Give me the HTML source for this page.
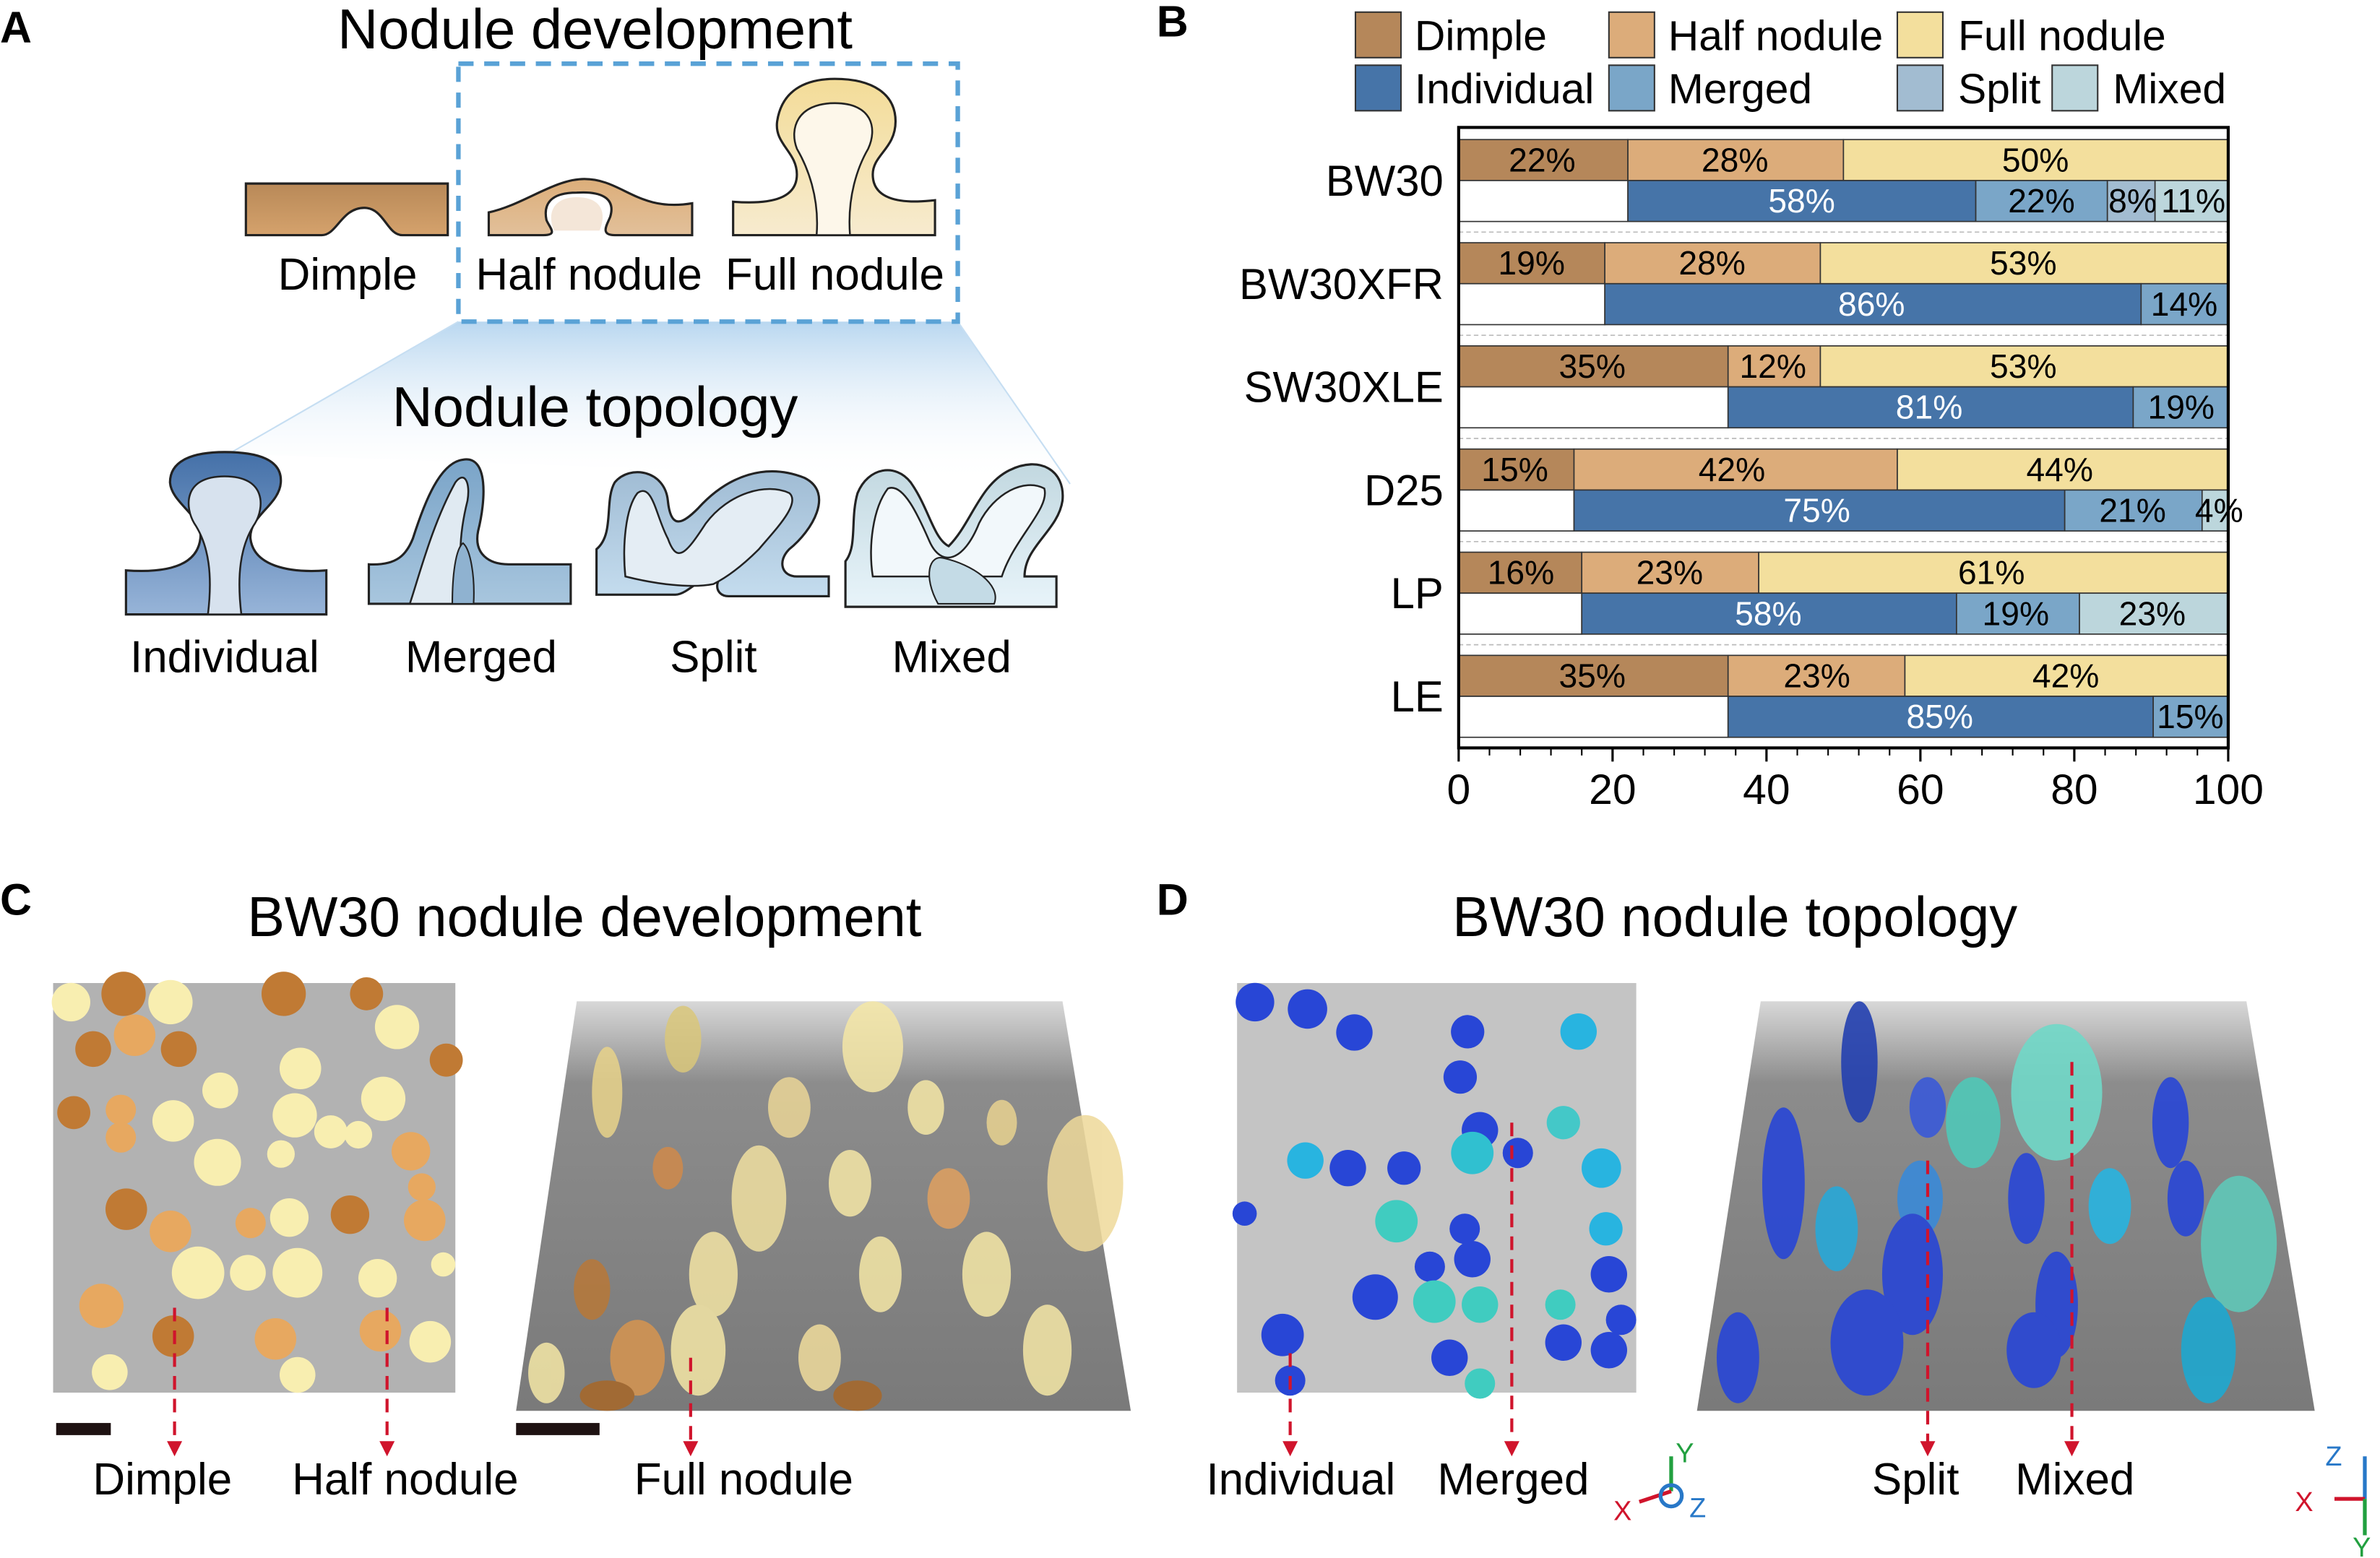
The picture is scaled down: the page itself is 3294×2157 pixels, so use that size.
<!DOCTYPE html>
<html><head><meta charset="utf-8"><style>
html,body{margin:0;padding:0;background:#fff;}
svg{display:block;}
text{font-family:"Liberation Sans",Arial,sans-serif;fill:#000;}
</style></head><body>
<svg width="3294" height="2157" viewBox="0 0 1568 1027" preserveAspectRatio="none" xmlns="http://www.w3.org/2000/svg">
<defs>
<linearGradient id="fan" x1="0" y1="0" x2="0" y2="1"><stop offset="0" stop-color="#b9d7f0"/><stop offset="1" stop-color="#ffffff" stop-opacity="0"/></linearGradient>
<linearGradient id="gD" x1="0" y1="0" x2="0" y2="1"><stop offset="0" stop-color="#b88958"/><stop offset="1" stop-color="#d5a26c"/></linearGradient>
<linearGradient id="gH" x1="0" y1="0" x2="0" y2="1"><stop offset="0" stop-color="#dcae7a"/><stop offset="1" stop-color="#e2c09a"/></linearGradient>
<linearGradient id="gF" x1="0" y1="0" x2="0" y2="1"><stop offset="0" stop-color="#f3dc98"/><stop offset="1" stop-color="#f7ebcf"/></linearGradient>
<linearGradient id="gI" x1="0" y1="0" x2="0" y2="1"><stop offset="0" stop-color="#4470a8"/><stop offset="1" stop-color="#97b4d8"/></linearGradient>
<linearGradient id="gM" x1="0" y1="0" x2="0" y2="1"><stop offset="0" stop-color="#7aa4c8"/><stop offset="1" stop-color="#a8c6de"/></linearGradient>
<linearGradient id="gS" x1="0" y1="0" x2="0" y2="1"><stop offset="0" stop-color="#a0bcd4"/><stop offset="1" stop-color="#c4dcee"/></linearGradient>
<linearGradient id="gX" x1="0" y1="0" x2="0" y2="1"><stop offset="0" stop-color="#c2d8e0"/><stop offset="1" stop-color="#e8f4fa"/></linearGradient>
<linearGradient id="tr" x1="0" y1="0" x2="0" y2="1"><stop offset="0" stop-color="#d8d8d8"/><stop offset="0.2" stop-color="#8c8c8c"/><stop offset="1" stop-color="#7a7a7a"/></linearGradient>
</defs>

<!-- Panel A -->
<text x="0" y="28" font-size="29" font-weight="bold">A</text>
<text x="392" y="32" font-size="37" text-anchor="middle">Nodule development</text>
<polygon points="302,212 631,212 705,319 151,299" fill="url(#fan)"/>
<line x1="302" y1="212" x2="151" y2="299" stroke="#c6def2" stroke-width="1"/>
<line x1="631" y1="212" x2="705" y2="319" stroke="#c6def2" stroke-width="1"/>
<rect x="302" y="42" width="329" height="170" fill="none" stroke="#5aa2d6" stroke-width="3" stroke-dasharray="10,7"/>
<path d="M162,121 L295,121 L295,155 L265,155 C255,155 253,137 240,137 C225,137 222,155 212,155 L162,155 Z" fill="url(#gD)" stroke="#222" stroke-width="1.5"/>
<path d="M322,140 C345,135 365,118 385,118 C410,118 420,140 456,134 L456,155 L405,155 C395,155 400,148 402,143 C406,130 395,126 380,127 C362,127 358,135 360,145 C362,150 368,155 358,155 L322,155 Z" fill="url(#gH)" stroke="#222" stroke-width="1.5"/>
<path d="M365,152 C360,140 365,130 380,130 C396,130 400,140 395,152 Z" fill="#f4e6d8"/>
<path d="M483,155 L483,133 C510,135 525,130 525,115 C525,100 510,95 512,80 C515,60 530,52 550,52 C575,52 590,62 590,80 C590,98 575,102 575,115 C575,130 590,135 616,132 L616,155 Z" fill="url(#gF)" stroke="#222" stroke-width="1.5"/>
<path d="M538,155 C540,130 532,110 525,98 C520,85 525,68 550,68 C575,68 578,85 572,98 C565,110 558,130 560,155 Z" fill="#fdf7ea" stroke="#222" stroke-width="1.2"/>
<text x="229" y="191" font-size="29.5" text-anchor="middle">Dimple</text>
<text x="388" y="191" font-size="29.5" text-anchor="middle">Half nodule</text>
<text x="550" y="191" font-size="29.5" text-anchor="middle">Full nodule</text>
<text x="392" y="281" font-size="37" text-anchor="middle">Nodule topology</text>
<path d="M83,405 L83,376 C112,378 130,372 132,355 C134,340 113,332 112,318 C112,303 128,298 148,298 C170,298 186,303 185,318 C184,333 164,340 165,355 C167,372 188,378 215,376 L215,405 Z" fill="url(#gI)" stroke="#222" stroke-width="1.5"/>
<path d="M137,405 C140,380 138,360 128,345 C122,335 120,314 148,314 C176,314 174,335 168,345 C158,360 156,380 159,405 Z" fill="#d7e2ee" stroke="#222" stroke-width="1.2"/>
<path d="M243,398 L243,372 C262,373 268,365 272,355 C280,330 290,305 305,303 C322,300 320,330 315,350 C312,365 322,372 335,372 L376,372 L376,398 Z" fill="url(#gM)" stroke="#222" stroke-width="1.5"/>
<path d="M270,398 C276,380 285,345 300,318 C306,310 310,318 308,330 C303,350 300,375 310,398 Z" fill="#e0eaf2" stroke="#222" stroke-width="1.2"/>
<path d="M298,398 C298,380 300,362 305,358 C310,362 313,380 312,398 Z" fill="#8fb2d0" stroke="#222" stroke-width="1"/>
<path d="M393,392 L393,362 C405,352 398,330 405,318 C415,306 438,310 440,330 C442,350 450,345 460,335 C480,313 505,305 530,315 C550,325 535,350 520,362 C512,370 515,380 525,380 L546,380 L546,393 L480,393 C470,393 470,380 480,378 C470,370 455,392 445,392 Z" fill="url(#gS)" stroke="#222" stroke-width="1.5"/>
<path d="M412,380 C410,360 412,335 420,325 C430,318 432,340 440,355 C446,372 452,365 465,345 C480,325 505,318 520,325 C528,332 510,350 500,362 C490,372 480,380 470,385 C455,388 432,385 412,380 Z" fill="#e4edf4" stroke="#222" stroke-width="1.2"/>
<path d="M557,400 L557,370 C565,360 560,342 565,325 C572,308 590,305 600,318 C612,335 615,355 625,360 C640,345 645,320 665,310 C685,300 702,310 700,330 C697,350 675,360 675,380 L696,380 L696,400 Z" fill="url(#gX)" stroke="#222" stroke-width="1.5"/>
<path d="M575,380 C572,360 575,335 585,322 C595,318 605,340 612,356 C620,375 635,370 645,345 C655,325 675,315 688,322 C692,335 668,355 660,380 Z" fill="#f2f8fb" stroke="#222" stroke-width="1.2"/>
<path d="M618,398 C608,380 612,365 622,368 C640,372 660,385 655,398 Z" fill="#c4dbe6" stroke="#222" stroke-width="1"/>
<text x="148" y="443" font-size="29.5" text-anchor="middle">Individual</text>
<text x="317" y="443" font-size="29.5" text-anchor="middle">Merged</text>
<text x="470" y="443" font-size="29.5" text-anchor="middle">Split</text>
<text x="627" y="443" font-size="29.5" text-anchor="middle">Mixed</text>

<!-- Panel B -->
<text x="762" y="24" font-size="29" font-weight="bold">B</text>
<g stroke="#333" stroke-width="1">
<rect x="893" y="8" width="30" height="30" fill="#b5875a"/>
<rect x="1060" y="8" width="30" height="30" fill="#dcac7a"/>
<rect x="1250" y="8" width="30" height="30" fill="#f3df9d"/>
<rect x="893" y="43" width="30" height="30" fill="#4674a8"/>
<rect x="1060" y="43" width="30" height="30" fill="#7aa6c8"/>
<rect x="1250" y="43" width="30" height="30" fill="#a2bcd1"/>
<rect x="1352" y="43" width="30" height="30" fill="#bcd6dc"/>
</g>
<g font-size="28">
<text x="932" y="33">Dimple</text><text x="1099" y="33">Half nodule</text><text x="1290" y="33">Full nodule</text>
<text x="932" y="68">Individual</text><text x="1099" y="68">Merged</text><text x="1290" y="68">Split</text><text x="1392" y="68">Mixed</text>
</g>
<g stroke="#bbb" stroke-width="0.8" stroke-dasharray="3,2">
<line x1="961" y1="153" x2="1468" y2="153"/><line x1="961" y1="221" x2="1468" y2="221"/><line x1="961" y1="289" x2="1468" y2="289"/><line x1="961" y1="357" x2="1468" y2="357"/><line x1="961" y1="425" x2="1468" y2="425"/>
</g>
<g stroke="#333" stroke-width="0.8">
<rect x="961" y="92" width="111.5" height="27" fill="#b5875a"/><rect x="1072.5" y="92" width="142" height="27" fill="#dcac7a"/><rect x="1214.5" y="92" width="253.5" height="27" fill="#f3df9d"/>
<rect x="961" y="119" width="111.5" height="27" fill="#fff"/><rect x="1072.5" y="119" width="229.2" height="27" fill="#4674a8"/><rect x="1301.7" y="119" width="86.7" height="27" fill="#7aa6c8"/><rect x="1388.4" y="119" width="31.4" height="27" fill="#a2bcd1"/><rect x="1419.8" y="119" width="48.2" height="27" fill="#bcd6dc"/>
<rect x="961" y="160" width="96.3" height="27" fill="#b5875a"/><rect x="1057.3" y="160" width="142" height="27" fill="#dcac7a"/><rect x="1199.3" y="160" width="268.7" height="27" fill="#f3df9d"/>
<rect x="961" y="187" width="96.3" height="27" fill="#fff"/><rect x="1057.3" y="187" width="353.3" height="27" fill="#4674a8"/><rect x="1410.6" y="187" width="57.4" height="27" fill="#7aa6c8"/>
<rect x="961" y="228" width="177.5" height="27" fill="#b5875a"/><rect x="1138.5" y="228" width="60.8" height="27" fill="#dcac7a"/><rect x="1199.3" y="228" width="268.7" height="27" fill="#f3df9d"/>
<rect x="961" y="255" width="177.5" height="27" fill="#fff"/><rect x="1138.5" y="255" width="266.9" height="27" fill="#4674a8"/><rect x="1405.4" y="255" width="62.6" height="27" fill="#7aa6c8"/>
<rect x="961" y="296" width="76" height="27" fill="#b5875a"/><rect x="1037" y="296" width="213" height="27" fill="#dcac7a"/><rect x="1250" y="296" width="218" height="27" fill="#f3df9d"/>
<rect x="961" y="323" width="76" height="27" fill="#fff"/><rect x="1037" y="323" width="323.3" height="27" fill="#4674a8"/><rect x="1360.3" y="323" width="90.5" height="27" fill="#7aa6c8"/><rect x="1450.8" y="323" width="17.2" height="27" fill="#bcd6dc"/>
<rect x="961" y="364" width="81.1" height="27" fill="#b5875a"/><rect x="1042.1" y="364" width="116.6" height="27" fill="#dcac7a"/><rect x="1158.7" y="364" width="309.3" height="27" fill="#f3df9d"/>
<rect x="961" y="391" width="81.1" height="27" fill="#fff"/><rect x="1042.1" y="391" width="246.9" height="27" fill="#4674a8"/><rect x="1289" y="391" width="81" height="27" fill="#7aa6c8"/><rect x="1370" y="391" width="98" height="27" fill="#bcd6dc"/>
<rect x="961" y="432" width="177.5" height="27" fill="#b5875a"/><rect x="1138.5" y="432" width="116.5" height="27" fill="#dcac7a"/><rect x="1255" y="432" width="213" height="27" fill="#f3df9d"/>
<rect x="961" y="459" width="177.5" height="27" fill="#fff"/><rect x="1138.5" y="459" width="280.1" height="27" fill="#4674a8"/><rect x="1418.6" y="459" width="49.4" height="27" fill="#7aa6c8"/>
</g>
<rect x="961" y="84" width="507" height="409" fill="none" stroke="#000" stroke-width="2"/>
<g font-size="22" text-anchor="middle">
<text x="1016" y="113">22%</text><text x="1143" y="113">28%</text><text x="1341" y="113">50%</text>
<text x="1187" y="140" style="fill:#fff">58%</text><text x="1345" y="140">22%</text><text x="1405" y="140">8%</text><text x="1445" y="140">11%</text>
<text x="1009" y="181">19%</text><text x="1128" y="181">28%</text><text x="1333" y="181">53%</text>
<text x="1233" y="208" style="fill:#fff">86%</text><text x="1439" y="208">14%</text>
<text x="1049" y="249">35%</text><text x="1168" y="249">12%</text><text x="1333" y="249">53%</text>
<text x="1271" y="276" style="fill:#fff">81%</text><text x="1437" y="276">19%</text>
<text x="998" y="317">15%</text><text x="1141" y="317">42%</text><text x="1357" y="317">44%</text>
<text x="1197" y="344" style="fill:#fff">75%</text><text x="1405" y="344">21%</text><text x="1462" y="344">4%</text>
<text x="1002" y="385">16%</text><text x="1100" y="385">23%</text><text x="1312" y="385">61%</text>
<text x="1165" y="412" style="fill:#fff">58%</text><text x="1328" y="412">19%</text><text x="1418" y="412">23%</text>
<text x="1049" y="453">35%</text><text x="1197" y="453">23%</text><text x="1361" y="453">42%</text>
<text x="1278" y="480" style="fill:#fff">85%</text><text x="1443" y="480">15%</text>
</g>
<g font-size="28.5" text-anchor="end">
<text x="951" y="129">BW30</text><text x="951" y="197">BW30XFR</text><text x="951" y="265">SW30XLE</text><text x="951" y="333">D25</text><text x="951" y="401">LP</text><text x="951" y="469">LE</text>
</g>
<g stroke="#000" stroke-width="1.5">
<line x1="961" y1="493" x2="961" y2="502"/><line x1="1062.4" y1="493" x2="1062.4" y2="502"/><line x1="1163.8" y1="493" x2="1163.8" y2="502"/><line x1="1265.2" y1="493" x2="1265.2" y2="502"/><line x1="1366.6" y1="493" x2="1366.6" y2="502"/><line x1="1468" y1="493" x2="1468" y2="502"/>
</g>
<g stroke="#000" stroke-width="1">
<line x1="981.3" y1="493" x2="981.3" y2="498"/><line x1="1001.6" y1="493" x2="1001.6" y2="498"/><line x1="1021.8" y1="493" x2="1021.8" y2="498"/><line x1="1042.1" y1="493" x2="1042.1" y2="498"/>
<line x1="1082.7" y1="493" x2="1082.7" y2="498"/><line x1="1103" y1="493" x2="1103" y2="498"/><line x1="1123.2" y1="493" x2="1123.2" y2="498"/><line x1="1143.5" y1="493" x2="1143.5" y2="498"/>
<line x1="1184.1" y1="493" x2="1184.1" y2="498"/><line x1="1204.4" y1="493" x2="1204.4" y2="498"/><line x1="1224.6" y1="493" x2="1224.6" y2="498"/><line x1="1244.9" y1="493" x2="1244.9" y2="498"/>
<line x1="1285.5" y1="493" x2="1285.5" y2="498"/><line x1="1305.8" y1="493" x2="1305.8" y2="498"/><line x1="1326" y1="493" x2="1326" y2="498"/><line x1="1346.3" y1="493" x2="1346.3" y2="498"/>
<line x1="1386.9" y1="493" x2="1386.9" y2="498"/><line x1="1407.2" y1="493" x2="1407.2" y2="498"/><line x1="1427.4" y1="493" x2="1427.4" y2="498"/><line x1="1447.7" y1="493" x2="1447.7" y2="498"/>
</g>
<g font-size="28" text-anchor="middle">
<text x="961" y="530">0</text><text x="1062.4" y="530">20</text><text x="1163.8" y="530">40</text><text x="1265.2" y="530">60</text><text x="1366.6" y="530">80</text><text x="1468" y="530">100</text>
</g>

<!-- Panel C / D titles -->
<text x="0" y="603" font-size="29" font-weight="bold">C</text>
<text x="385" y="617" font-size="37" text-anchor="middle">BW30 nodule development</text>
<text x="762" y="603" font-size="29" font-weight="bold">D</text>
<text x="1143" y="617" font-size="37" text-anchor="middle">BW30 nodule topology</text>

<rect x="35" y="648" width="265" height="270" fill="#b2b2b2"/>
<g>
<circle cx="46.8" cy="660.6" r="12.7" fill="#f8eeb0"/><circle cx="81.4" cy="655.1" r="14.6" fill="#c07a34"/><circle cx="112.3" cy="660.6" r="14.6" fill="#f8eeb0"/><circle cx="186.9" cy="655.1" r="14.6" fill="#c07a34"/><circle cx="241.5" cy="655.1" r="10.9" fill="#c07a34"/><circle cx="261.6" cy="677" r="14.6" fill="#f8eeb0"/><circle cx="61.4" cy="691.5" r="11.8" fill="#c07a34"/><circle cx="88.7" cy="682.4" r="13.7" fill="#e7a860"/><circle cx="117.8" cy="691.5" r="11.8" fill="#c07a34"/><circle cx="197.9" cy="704.3" r="13.7" fill="#f8eeb0"/><circle cx="294" cy="698.8" r="10.9" fill="#c07a34"/><circle cx="145.1" cy="718.8" r="11.8" fill="#f8eeb0"/><circle cx="48.6" cy="733.4" r="10.9" fill="#c07a34"/><circle cx="79.6" cy="731.6" r="10" fill="#e7a860"/><circle cx="114.1" cy="738.9" r="13.7" fill="#f8eeb0"/><circle cx="79.6" cy="749.8" r="10" fill="#e7a860"/><circle cx="194.2" cy="735.2" r="14.6" fill="#f8eeb0"/><circle cx="252.5" cy="724.3" r="14.6" fill="#f8eeb0"/><circle cx="217.9" cy="746.1" r="10.9" fill="#f8eeb0"/><circle cx="236.1" cy="748" r="9.1" fill="#f8eeb0"/><circle cx="143.3" cy="766.2" r="15.5" fill="#f8eeb0"/><circle cx="185.1" cy="760.7" r="9.1" fill="#f8eeb0"/><circle cx="270.7" cy="758.9" r="12.7" fill="#e7a860"/><circle cx="277.9" cy="782.5" r="9.1" fill="#e7a860"/><circle cx="83.2" cy="797.1" r="13.7" fill="#c07a34"/><circle cx="112.3" cy="811.7" r="13.7" fill="#e7a860"/><circle cx="165.1" cy="806.2" r="10" fill="#e7a860"/><circle cx="190.6" cy="802.6" r="12.7" fill="#f8eeb0"/><circle cx="230.6" cy="800.7" r="12.7" fill="#c07a34"/><circle cx="279.8" cy="804.4" r="13.7" fill="#e7a860"/><circle cx="130.5" cy="839" r="17.3" fill="#f8eeb0"/><circle cx="163.3" cy="839" r="11.8" fill="#f8eeb0"/><circle cx="196" cy="839" r="16.4" fill="#f8eeb0"/><circle cx="248.8" cy="842.6" r="12.7" fill="#f8eeb0"/><circle cx="66.8" cy="860.8" r="14.6" fill="#e7a860"/><circle cx="114.1" cy="880.8" r="13.7" fill="#c07a34"/><circle cx="181.5" cy="882.6" r="13.7" fill="#e7a860"/><circle cx="250.6" cy="877.2" r="13.7" fill="#e7a860"/><circle cx="283.4" cy="884.5" r="13.7" fill="#f8eeb0"/><circle cx="72.3" cy="904.5" r="11.8" fill="#f8eeb0"/><circle cx="196" cy="906.3" r="11.8" fill="#f8eeb0"/><circle cx="292" cy="833.5" r="8" fill="#f8eeb0"/>
</g>
<polygon points="380,660 700,660 745,930 340,930" fill="url(#tr)"/>
<g opacity="0.85">
<ellipse cx="450" cy="685" rx="12" ry="22" fill="#d9c77a"/><ellipse cx="575" cy="690" rx="20" ry="30" fill="#f5e7a6"/><ellipse cx="400" cy="720" rx="10" ry="30" fill="#e8d28a"/><ellipse cx="520" cy="730" rx="14" ry="20" fill="#ead596"/><ellipse cx="610" cy="730" rx="12" ry="18" fill="#f5e7a6"/><ellipse cx="440" cy="770" rx="10" ry="14" fill="#d08a4a"/><ellipse cx="500" cy="790" rx="18" ry="35" fill="#f0e0a0"/><ellipse cx="560" cy="780" rx="14" ry="22" fill="#f5e7a6"/><ellipse cx="625" cy="790" rx="14" ry="20" fill="#e0a060"/><ellipse cx="660" cy="740" rx="10" ry="15" fill="#e8d290"/><ellipse cx="715" cy="780" rx="25" ry="45" fill="#eed99a"/><ellipse cx="390" cy="850" rx="12" ry="20" fill="#b87838"/><ellipse cx="470" cy="840" rx="16" ry="28" fill="#f3e4a4"/><ellipse cx="580" cy="840" rx="14" ry="25" fill="#f5e7a6"/><ellipse cx="650" cy="840" rx="16" ry="28" fill="#f5e7a6"/><ellipse cx="420" cy="895" rx="18" ry="25" fill="#d79550"/><ellipse cx="460" cy="890" rx="18" ry="30" fill="#f5e7a6"/><ellipse cx="540" cy="895" rx="14" ry="22" fill="#f0dc9c"/><ellipse cx="690" cy="890" rx="16" ry="30" fill="#f5e7a6"/><ellipse cx="360" cy="905" rx="12" ry="20" fill="#f5e7a6"/><ellipse cx="400" cy="920" rx="18" ry="10" fill="#a86828"/><ellipse cx="565" cy="920" rx="16" ry="10" fill="#a86828"/>
</g>
<rect x="37" y="938" width="36" height="8" fill="#1e1212"/>
<rect x="340" y="938" width="55" height="8" fill="#1e1212"/>

<rect x="815" y="648" width="263" height="270" fill="#c4c4c4"/>
<g>
<circle cx="826.8" cy="660.6" r="12.7" fill="#2846d6"/><circle cx="861.4" cy="665.1" r="13" fill="#2846d6"/><circle cx="892.3" cy="680.6" r="12" fill="#2846d6"/><circle cx="966.9" cy="680.1" r="11" fill="#2846d6"/><circle cx="1040" cy="680" r="12" fill="#28b4e0"/><circle cx="962" cy="710" r="11" fill="#2846d6"/><circle cx="975" cy="745" r="12" fill="#2846d6"/><circle cx="1030" cy="740" r="11" fill="#44c8c8"/><circle cx="860" cy="765" r="12" fill="#28b4e0"/><circle cx="888" cy="770" r="12" fill="#2846d6"/><circle cx="925" cy="770" r="11" fill="#2846d6"/><circle cx="970" cy="760" r="14" fill="#30c0d0"/><circle cx="1000" cy="760" r="10" fill="#2846d6"/><circle cx="1055" cy="770" r="13" fill="#28b4e0"/><circle cx="920" cy="805" r="14" fill="#40ccc0"/><circle cx="965" cy="810" r="10" fill="#2846d6"/><circle cx="1058" cy="810" r="11" fill="#28b4e0"/><circle cx="942" cy="835" r="10" fill="#2846d6"/><circle cx="970" cy="830" r="12" fill="#2846d6"/><circle cx="1060" cy="840" r="12" fill="#2846d6"/><circle cx="906" cy="855" r="15" fill="#2846d6"/><circle cx="945" cy="858" r="14" fill="#40ccc0"/><circle cx="975" cy="860" r="12" fill="#40ccc0"/><circle cx="1028" cy="860" r="10" fill="#40ccc0"/><circle cx="1068" cy="870" r="10" fill="#2846d6"/><circle cx="845" cy="880" r="14" fill="#2846d6"/><circle cx="955" cy="895" r="12" fill="#2846d6"/><circle cx="1030" cy="885" r="12" fill="#2846d6"/><circle cx="1060" cy="890" r="12" fill="#2846d6"/><circle cx="850" cy="910" r="10" fill="#2846d6"/><circle cx="975" cy="912" r="10" fill="#40ccc0"/><circle cx="820" cy="800" r="8" fill="#2846d6"/>
</g>
<polygon points="1160,660 1480,660 1525,930 1118,930" fill="url(#tr)"/>
<g opacity="0.9">
<ellipse cx="1225" cy="700" rx="12" ry="40" fill="#2340b0"/><ellipse cx="1175" cy="780" rx="14" ry="50" fill="#2846d6"/><ellipse cx="1270" cy="730" rx="12" ry="20" fill="#3a5ad8"/><ellipse cx="1300" cy="740" rx="18" ry="30" fill="#50c8b8"/><ellipse cx="1355" cy="720" rx="30" ry="45" fill="#70d8c8"/><ellipse cx="1430" cy="740" rx="12" ry="30" fill="#2846d6"/><ellipse cx="1265" cy="790" rx="15" ry="25" fill="#3a8ad8"/><ellipse cx="1335" cy="790" rx="12" ry="30" fill="#2846d6"/><ellipse cx="1390" cy="795" rx="14" ry="25" fill="#28b4e0"/><ellipse cx="1440" cy="790" rx="12" ry="25" fill="#2846d6"/><ellipse cx="1475" cy="820" rx="25" ry="45" fill="#60c8b8"/><ellipse cx="1210" cy="810" rx="14" ry="28" fill="#28a8d8"/><ellipse cx="1260" cy="840" rx="20" ry="40" fill="#2846d6"/><ellipse cx="1355" cy="860" rx="14" ry="35" fill="#2846d6"/><ellipse cx="1230" cy="885" rx="24" ry="35" fill="#2846d6"/><ellipse cx="1340" cy="890" rx="18" ry="25" fill="#2846d6"/><ellipse cx="1145" cy="895" rx="14" ry="30" fill="#2846d6"/><ellipse cx="1455" cy="890" rx="18" ry="35" fill="#1ea8d0"/>
</g>

<g stroke="#d0142c" stroke-width="2" stroke-dasharray="9,6" fill="none">
<line x1="115" y1="862" x2="115" y2="952"/><line x1="255" y1="862" x2="255" y2="952"/><line x1="455" y1="895" x2="455" y2="952"/>
<line x1="850" y1="892" x2="850" y2="952"/><line x1="996" y1="740" x2="996" y2="952"/><line x1="1270" y1="765" x2="1270" y2="952"/><line x1="1365" y1="700" x2="1365" y2="952"/>
</g>
<g fill="#d0142c">
<polygon points="110,950 120,950 115,960"/><polygon points="250,950 260,950 255,960"/><polygon points="450,950 460,950 455,960"/><polygon points="845,950 855,950 850,960"/><polygon points="991,950 1001,950 996,960"/><polygon points="1265,950 1275,950 1270,960"/><polygon points="1360,950 1370,950 1365,960"/>
</g>
<g font-size="29.5" text-anchor="middle">
<text x="107" y="985">Dimple</text><text x="267" y="985">Half nodule</text><text x="490" y="985">Full nodule</text>
<text x="857" y="985">Individual</text><text x="997" y="985">Merged</text><text x="1262" y="985">Split</text><text x="1367" y="985">Mixed</text>
</g>
<g stroke-width="2.5">
<line x1="1101" y1="983" x2="1101" y2="960" stroke="#22a040"/><line x1="1101" y1="983" x2="1080" y2="990" stroke="#d0142c"/>
<circle cx="1101" cy="986" r="7" fill="none" stroke="#2878c8"/>
<line x1="1558" y1="988" x2="1558" y2="960" stroke="#2878c8"/><line x1="1558" y1="988" x2="1538" y2="988" stroke="#d0142c"/><line x1="1558" y1="988" x2="1558" y2="1012" stroke="#22a040"/>
</g>
<text x="1104" y="964" font-size="18" style="fill:#22a040">Y</text>
<text x="1063" y="1002" font-size="18" style="fill:#d0142c">X</text>
<text x="1113" y="1000" font-size="18" style="fill:#2878c8">Z</text>
<text x="1532" y="966" font-size="18" style="fill:#2878c8">Z</text>
<text x="1512" y="996" font-size="18" style="fill:#d0142c">X</text>
<text x="1550" y="1026" font-size="18" style="fill:#22a040">Y</text>
</svg>
</body></html>
